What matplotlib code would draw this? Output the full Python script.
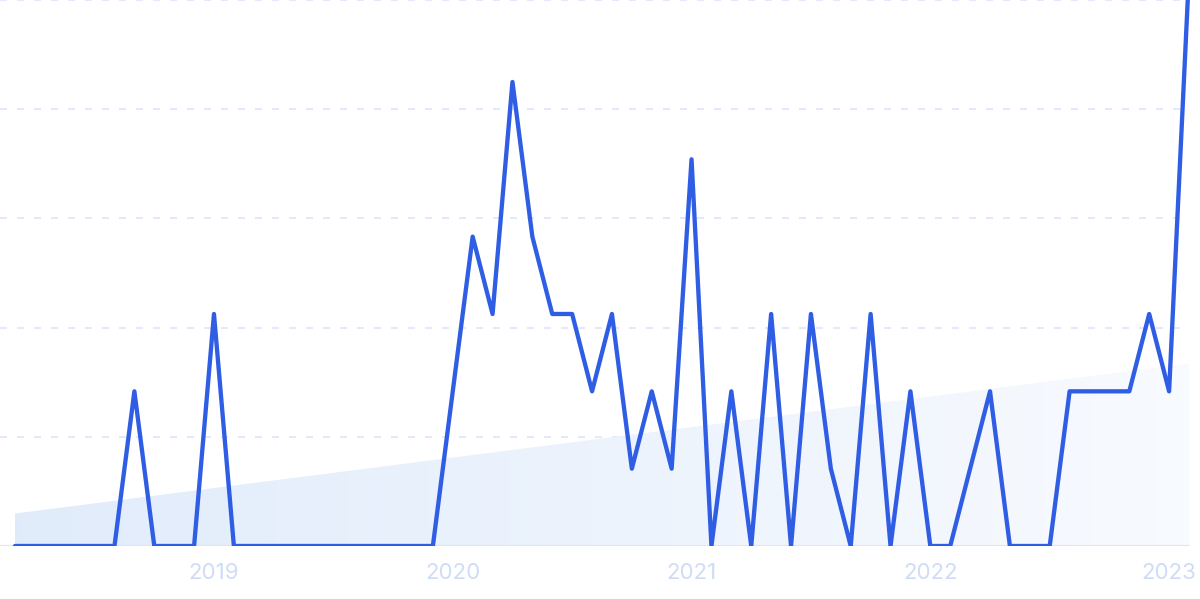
import matplotlib
matplotlib.use("Agg")
import matplotlib.pyplot as plt
import numpy as np
from matplotlib.patches import Polygon

# Monthly values, Mar 2018 .. Feb 2023
values = [0, 0, 0, 0, 0, 0, 2, 0, 0, 0,      # Mar-Dec 2018
          3, 0, 0, 0, 0, 0, 0, 0, 0, 0, 0, 0,  # 2019
          2, 4, 3, 6, 4, 3, 3, 2, 3, 1, 2, 1,  # 2020
          5, 0, 2, 0, 3, 0, 3, 1, 0, 3, 0, 2,  # 2021
          0, 0, 1, 2, 0, 0, 0, 2, 2, 2, 2, 3,  # 2022
          2, 7.4]                              # Jan-Feb 2023
year_labels = ["2019", "2020", "2021", "2022", "2023"]
year_tick_index = [10, 22, 34, 46, 58]
trend_start, trend_end = 0.42, 2.36
y_max = 7.06
grid_levels = [1.412, 2.824, 4.236, 5.648, 7.06]

fig = plt.figure(figsize=(12, 5.99), dpi=100)
ax = fig.add_axes([0, 53/599, 1190/1200, 546/599])

x = np.arange(len(values))
n = len(values)

# gradient trend area
poly = Polygon([[0, 0], [0, trend_start], [n - 1, trend_end], [n - 1, 0]],
               closed=True, facecolor='none', edgecolor='none')
ax.add_patch(poly)
c_left = np.array([0.882, 0.925, 0.984])
c_right = np.array([0.972, 0.982, 0.998])
tgrad = np.linspace(0, 1, 256)
img = (c_left[None, :] * (1 - tgrad[:, None]) + c_right[None, :] * tgrad[:, None])[None, :, :]
im = ax.imshow(img, extent=[0, n - 1, 0, trend_end], aspect='auto', zorder=1,
               interpolation='bilinear')
im.set_clip_path(poly)

for g in grid_levels:
    ax.axhline(g, color='#dbe5fb', lw=1.2, dashes=(4.2, 6.0), zorder=0.5)
ax.axhline(0, color='#dbe6f6', lw=1.5, zorder=2)

ax.plot(x, values, color='#2f5ee4', lw=3.1, solid_joinstyle='round',
        solid_capstyle='round', zorder=3, clip_on=True)

ax.set_xlim(-15/19.9, n - 1 + 1/19.9)
ax.set_ylim(0, y_max)
ax.set_xticks(year_tick_index)
ax.set_xticklabels(year_labels)
ax.tick_params(axis='x', length=0, pad=12.5, labelsize=16, labelcolor='#cfdcf6')
for lbl in ax.get_xticklabels():
    lbl.set_fontfamily('Inter')
ax.set_yticks([])
for s in ax.spines.values():
    s.set_visible(False)
ax.set_facecolor('none')

fig.savefig("out.png", dpi=100, facecolor='white')
